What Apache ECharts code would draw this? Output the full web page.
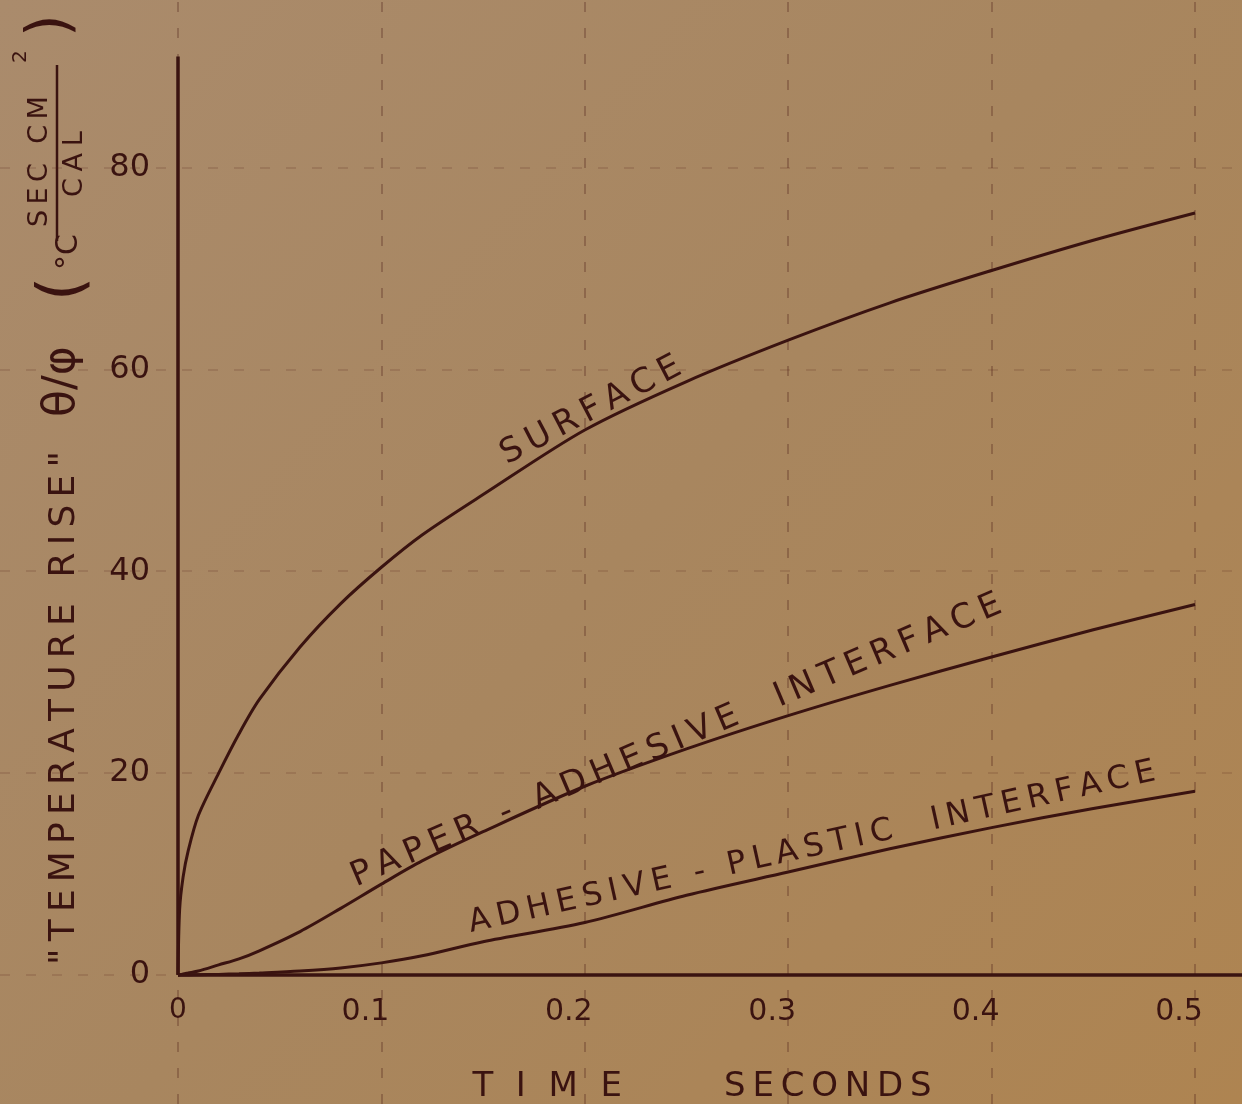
<!DOCTYPE html>
<html>
<head>
<meta charset="utf-8">
<title>Temperature rise</title>
<script src="https://cdn.jsdelivr.net/npm/echarts@6.0.0/dist/echarts.min.js"></script>
<style>
html, body { margin: 0; padding: 0; background: #a8875f; }
#chart { width: 1242px; height: 1104px; }
</style>
</head>
<body>
<div id="chart"></div>
<script>
// time in seconds
const TIME = [0, 0.0008, 0.0025, 0.005, 0.01, 0.02, 0.03, 0.04, 0.06, 0.08, 0.1, 0.12, 0.15, 0.2, 0.25, 0.3, 0.35, 0.4, 0.45, 0.5];
const SURFACE = [0, 6.5, 9.7, 12.3, 15.8, 20.0, 23.9, 27.3, 32.5, 36.8, 40.4, 43.6, 47.6, 54.0, 58.8, 62.9, 66.6, 69.8, 72.8, 75.5];
const PAPER_ADHESIVE = [0, 0.02, 0.1, 0.2, 0.4, 1.0, 1.6, 2.4, 4.3, 6.6, 9.0, 11.3, 14.2, 18.7, 22.4, 25.7, 28.7, 31.5, 34.2, 36.7];
const ADHESIVE_PLASTIC = [0, 0, 0, 0, 0.02, 0.06, 0.12, 0.2, 0.4, 0.7, 1.2, 1.9, 3.3, 5.2, 7.9, 10.2, 12.5, 14.6, 16.5, 18.2];

const X_TICKS = [0, 0.1, 0.2, 0.3, 0.4, 0.5];
const X_TICK_LABELS = ['0', '0.1', '0.2', '0.3', '0.4', '0.5'];
const Y_TICKS = [0, 20, 40, 60, 80];
const Y_TICK_LABELS = ['0', '20', '40', '60', '80'];

// whole sheet in data units; the plot grid starts at the origin
const X_MIN = -0.0875, X_MAX = 0.5231;
const Y_MIN = -12.8, Y_MAX = 96.6;
const Y_AXIS_TOP = 91;

const INK = '#3a1310';
const FONT = '"DejaVu Sans"';

function spread(s, gap) {
  return s.split('').join(gap);
}

function tickText(ticks, labels, v) {
  const i = ticks.findIndex(t => Math.abs(t - v) < 1e-6);
  return i < 0 ? null : labels[i];
}

const chart = echarts.init(document.getElementById('chart'));

function curve(name, values, label) {
  return {
    name: name,
    type: 'line',
    data: TIME.map((t, i) => [t, values[i]]),
    showSymbol: false,
    smooth: 0.3,
    clip: false,
    lineStyle: { color: INK, width: 3 },
    z: 5,
    markPoint: {
      symbol: 'circle',
      symbolSize: 1,
      itemStyle: { color: 'transparent' },
      silent: true,
      data: [{
        coord: label.at,
        label: {
          show: true,
          position: 'inside',
          formatter: spread(label.text, '\u2009'),
          rotate: label.rotate,
          color: INK,
          fontFamily: FONT,
          fontSize: label.size
        }
      }]
    }
  };
}

const guideLines = [
  ...X_TICKS.map(t => [
    { coord: [t, Y_MIN], lineStyle: { opacity: 0.4 } },
    { coord: [t, Y_MAX] }
  ]),
  ...Y_TICKS.map(v => [
    { coord: [X_MIN, v], lineStyle: { opacity: 0.2 } },
    { coord: [X_MAX, v] }
  ])
];

const option = {
  animation: false,
  backgroundColor: new echarts.graphic.LinearGradient(0, 0, 1, 1, [
    { offset: 0, color: '#aa8b6c' },
    { offset: 0.5, color: '#a8865f' },
    { offset: 1, color: '#ae8451' }
  ]),
  grid: [
    // plot area, its left and bottom edges are the drawn axes
    { left: 178, right: 0, top: 0, bottom: 129, outerBoundsMode: 'none' },
    // whole sheet, for the guide lines that run past the axes
    { left: 0, right: 0, top: 0, bottom: 0, outerBoundsMode: 'none' }
  ],
  xAxis: [
    {
      gridIndex: 0,
      type: 'value',
      min: 0,
      max: X_MAX,
      axisLine: { show: false },
      axisTick: { show: false },
      splitLine: { show: false },
      axisLabel: {
        margin: 22,
        color: INK,
        fontFamily: FONT,
        fontSize: 30,
        formatter: function (v) {
          const s = tickText(X_TICKS, X_TICK_LABELS, v);
          if (s === null) return '';
          return v === 0 ? '{z|' + s + '}' : '{t|' + s + '}';
        },
        rich: {
          z: { fontSize: 28, color: INK, fontFamily: FONT },
          t: { fontSize: 30, color: INK, fontFamily: FONT, padding: [0, 32, 0, 0] }
        }
      },
      name: spread('TIME', '\u2002\u2006') + '\u2003\u2003\u2003' + spread('SECONDS', '\u2009'),
      nameLocation: 'middle',
      nameGap: 95,
      nameTextStyle: { color: INK, fontFamily: FONT, fontSize: 34, padding: [0, 16, 0, 0] }
    },
    { gridIndex: 1, type: 'value', min: X_MIN, max: X_MAX, show: false }
  ],
  yAxis: [
    {
      gridIndex: 0,
      type: 'value',
      min: 0,
      max: Y_MAX,
      axisLine: { show: false },
      axisTick: { show: false },
      splitLine: { show: false },
      axisLabel: {
        margin: 28,
        color: INK,
        fontFamily: FONT,
        fontSize: 32,
        padding: [0, 0, 16, 0],
        formatter: function (v) {
          const s = tickText(Y_TICKS, Y_TICK_LABELS, v);
          return s === null ? '' : s;
        }
      }
    },
    { gridIndex: 1, type: 'value', min: Y_MIN, max: Y_MAX, show: false }
  ],
  graphic: [{
    type: 'group',
    x: 65,
    y: 965,
    rotation: Math.PI / 2,
    silent: true,
    children: [
      { type: 'text', x: 0, y: 0, style: { text: spread('"TEMPERATURE RISE"', '\u2009'), fontFamily: FONT, fontSize: 36, fill: INK, align: 'left', verticalAlign: 'middle' } },
      { type: 'text', x: 548, y: -2, style: { text: 'θ/φ', fontFamily: FONT, fontSize: 44, fill: INK, align: 'left', verticalAlign: 'middle' } },
      { type: 'text', x: 664, y: 0, style: { text: '(', fontFamily: FONT, fontSize: 62, fill: INK, align: 'left', verticalAlign: 'middle' } },
      { type: 'text', x: 695, y: 4, style: { text: '°C', fontFamily: FONT, fontSize: 30, fill: INK, align: 'left', verticalAlign: 'middle' } },
      { type: 'text', x: 738, y: -25, style: { text: spread('SEC CM', '\u2009'), fontFamily: FONT, fontSize: 27, fill: INK, align: 'left', verticalAlign: 'middle' } },
      { type: 'text', x: 902, y: -44, style: { text: '2', fontFamily: FONT, fontSize: 20, fill: INK, align: 'left', verticalAlign: 'middle' } },
      { type: 'line', shape: { x1: 724, y1: -8, x2: 900, y2: -8 }, style: { stroke: INK, lineWidth: 2.5 } },
      { type: 'text', x: 768, y: 10, style: { text: spread('CAL', '\u2005'), fontFamily: FONT, fontSize: 27, fill: INK, align: 'left', verticalAlign: 'middle' } },
      { type: 'text', x: 928, y: -12, style: { text: ')', fontFamily: FONT, fontSize: 58, fill: INK, align: 'left', verticalAlign: 'middle' } }
    ]
  }],
  series: [
    {
      name: 'guides',
      type: 'line',
      xAxisIndex: 1,
      yAxisIndex: 1,
      data: [],
      silent: true,
      z: 1,
      markLine: {
        silent: true,
        symbol: ['none', 'none'],
        label: { show: false },
        lineStyle: { color: '#4e2019', width: 1.5, type: [10, 16] },
        data: guideLines
      }
    },
    {
      name: 'axes',
      type: 'line',
      xAxisIndex: 1,
      yAxisIndex: 1,
      data: [],
      silent: true,
      z: 3,
      markLine: {
        silent: true,
        symbol: ['none', 'none'],
        label: { show: false },
        lineStyle: { color: INK, width: 3.5, type: 'solid' },
        data: [
          [{ coord: [0, 0] }, { coord: [0, Y_AXIS_TOP] }],
          [{ coord: [0, 0] }, { coord: [X_MAX, 0] }]
        ]
      }
    },
    curve('Surface', SURFACE, { text: 'SURFACE', at: [0.203, 55.9], rotate: 27.5, size: 34 }),
    curve('Paper-adhesive interface', PAPER_ADHESIVE, { text: 'PAPER - ADHESIVE  INTERFACE', at: [0.245, 23.2], rotate: 23, size: 34 }),
    curve('Adhesive-plastic interface', ADHESIVE_PLASTIC, { text: 'ADHESIVE - PLASTIC  INTERFACE', at: [0.3117, 12.6], rotate: 12.5, size: 32 })
  ]
};

chart.setOption(option);
</script>
</body>
</html>
